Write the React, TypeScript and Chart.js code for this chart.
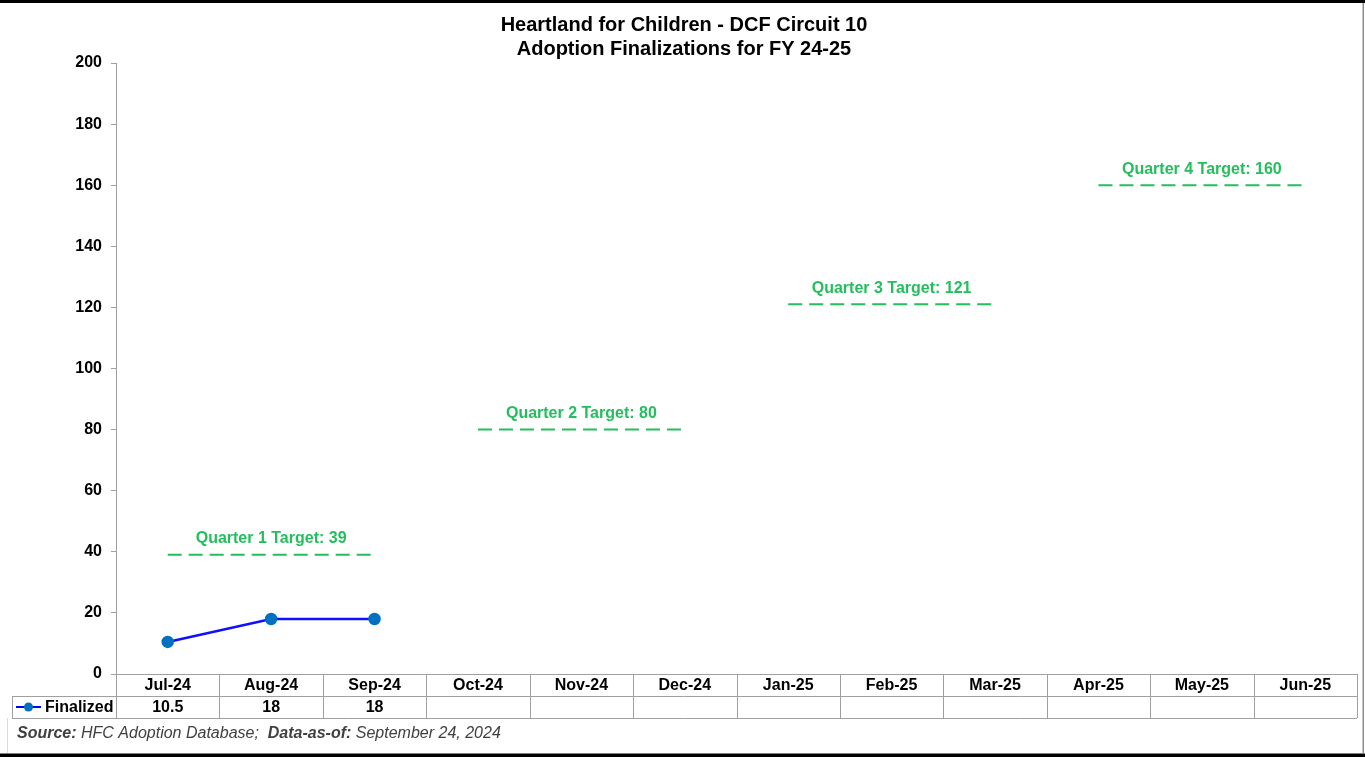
import React, { useEffect, useRef } from "react";
import { Chart, registerables } from "chart.js";

Chart.register(...registerables);

const titleLines = ["Heartland for Children - DCF Circuit 10", "Adoption Finalizations for FY 24-25"];
const categories = ["Jul-24", "Aug-24", "Sep-24", "Oct-24", "Nov-24", "Dec-24", "Jan-25", "Feb-25", "Mar-25", "Apr-25", "May-25", "Jun-25"];
const finalized: (number | null)[] = [10.5, 18, 18, null, null, null, null, null, null, null, null, null];
const seriesName = "Finalized";
const targetValues = [39, 80, 121, 160];
const targetLabels = ["Quarter 1 Target: 39", "Quarter 2 Target: 80", "Quarter 3 Target: 121", "Quarter 4 Target: 160"];
const yTicks = [0, 20, 40, 60, 80, 100, 120, 140, 160, 180, 200];

const FONT = "'Liberation Sans', Arial, sans-serif";
const GREEN = "#22BF5C";
const GRID = "#A0A0A0";

const targetDatasets = targetValues.map((v, q) => ({
  label: targetLabels[q],
  data: categories.map((_, i) => (Math.floor(i / 3) === q ? v : null)),
  borderColor: GREEN,
  borderWidth: 2,
  borderDash: [14, 7],
  pointRadius: 0,
  fill: false,
  spanGaps: false,
}));

const overlayPlugin = {
  id: "overlay",
  afterDraw(chart: any) {
    const ctx = chart.ctx as CanvasRenderingContext2D;
    const xs = chart.scales.x;
    const ys = chart.scales.y;
    const area = chart.chartArea;
    const n = categories.length;
    const cw = (area.right - area.left) / n;
    ctx.save();

    // title
    ctx.fillStyle = "#000";
    ctx.textAlign = "center";
    ctx.textBaseline = "middle";
    ctx.font = `bold 20px ${FONT}`;
    ctx.fillText(titleLines[0], 684, 25);
    ctx.fillText(titleLines[1], 684, 49);

    // target labels
    ctx.fillStyle = GREEN;
    ctx.font = `bold 16px ${FONT}`;
    targetValues.forEach((v, q) => {
      const x = xs.getPixelForValue(q * 3 + 1);
      const y = ys.getPixelForValue(v) - 16;
      ctx.fillText(targetLabels[q], x, y);
    });

    // data table
    const top = area.bottom;
    const mid = top + 22;
    const bot = top + 44;
    const legendLeft = 12;
    ctx.strokeStyle = GRID;
    ctx.lineWidth = 1;
    ctx.beginPath();
    ctx.moveTo(area.left - 4, top + 0.5);
    ctx.lineTo(area.right, top + 0.5);
    ctx.moveTo(legendLeft, mid + 0.5);
    ctx.lineTo(area.right, mid + 0.5);
    ctx.moveTo(legendLeft, bot + 0.5);
    ctx.lineTo(area.right, bot + 0.5);
    ctx.moveTo(legendLeft + 0.5, mid);
    ctx.lineTo(legendLeft + 0.5, bot);
    for (let i = 0; i <= n; i++) {
      const x = Math.round(area.left + i * cw) + 0.5;
      ctx.moveTo(x, top);
      ctx.lineTo(x, bot);
    }
    ctx.stroke();

    ctx.fillStyle = "#000";
    ctx.font = `bold 16px ${FONT}`;
    ctx.textAlign = "center";
    categories.forEach((c, i) => {
      const x = xs.getPixelForValue(i);
      ctx.fillText(c, x, top + 12);
      const v = finalized[i];
      if (v !== null && v !== undefined) ctx.fillText(String(v), x, mid + 12);
    });

    // legend key
    ctx.strokeStyle = "#0000FF";
    ctx.lineWidth = 2;
    ctx.beginPath();
    ctx.moveTo(16, mid + 11);
    ctx.lineTo(41, mid + 11);
    ctx.stroke();
    ctx.fillStyle = "#0070C0";
    ctx.beginPath();
    ctx.arc(28.5, mid + 11, 4.5, 0, Math.PI * 2);
    ctx.fill();
    ctx.fillStyle = "#000";
    ctx.textAlign = "left";
    ctx.fillText(seriesName, 45, mid + 12);

    // source line
    const parts: [string, boolean][] = [
      ["Source:", true],
      [" HFC Adoption Database;  ", false],
      ["Data-as-of:", true],
      [" September 24, 2024", false],
    ];
    let sx = 17;
    ctx.fillStyle = "#404040";
    parts.forEach(([t, b]) => {
      ctx.font = `italic ${b ? "bold " : ""}16px ${FONT}`;
      ctx.fillText(t, sx, 734);
      sx += ctx.measureText(t).width;
    });

    // frame
    ctx.fillStyle = "#000";
    ctx.fillRect(0, 0, 1365, 3);
    ctx.fillRect(0, 753.5, 1365, 4);
    ctx.fillStyle = "#8C8C8C";
    ctx.fillRect(1362.5, 3, 1.5, 751);
    ctx.fillStyle = "#D9D9D9";
    ctx.fillRect(7, 718, 1, 35);
    ctx.restore();
  },
};

export default function App() {
  const ref = useRef<HTMLCanvasElement>(null);
  useEffect(() => {
    if (!ref.current) return;
    const chart = new Chart(ref.current, {
      type: "line",
      data: {
        labels: categories,
        datasets: [
          {
            label: seriesName,
            data: finalized,
            borderColor: "#1010FF",
            borderWidth: 2.5,
            pointRadius: 5,
            pointBackgroundColor: "#0070C0",
            pointBorderColor: "#0070C0",
            fill: false,
          },
          ...targetDatasets,
        ] as any,
      },
      options: {
        animation: false,
        responsive: false,
        devicePixelRatio: 1,
        layout: { padding: { top: 63, right: 8, bottom: 83, left: 0 } },
        plugins: { legend: { display: false }, title: { display: false }, tooltip: { enabled: false } },
        scales: {
          x: { type: "category", display: false, offset: true },
          y: {
            min: 0,
            max: 200,
            afterFit: (s: any) => {
              s.width = 116;
            },
            afterBuildTicks: (s: any) => {
              s.ticks = yTicks.map((v) => ({ value: v }));
            },
            grid: { drawOnChartArea: false, drawTicks: true, tickLength: 5, color: GRID },
            border: { display: true, color: GRID, width: 1 },
            ticks: { padding: 9, color: "#000", font: { family: FONT, size: 16, weight: "bold" } },
          },
        },
      },
      plugins: [overlayPlugin],
    });
    return () => chart.destroy();
  }, []);
  return (
    <div style={{ position: "fixed", left: 0, top: 0, width: 1365, height: 757, background: "#fff" }}>
      <canvas ref={ref} width={1365} height={757} style={{ display: "block" }} />
    </div>
  );
}
